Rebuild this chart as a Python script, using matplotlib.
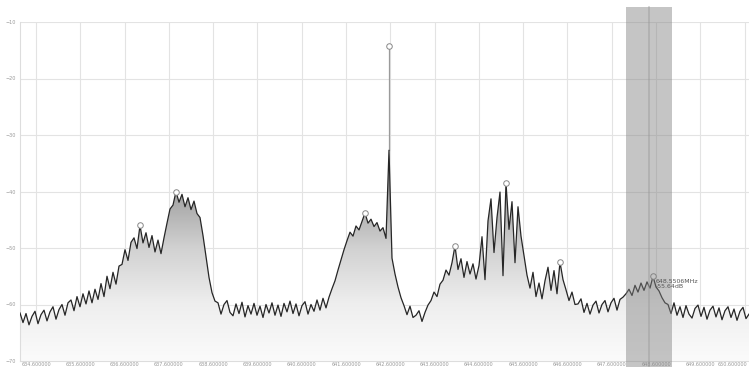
import matplotlib
matplotlib.use("Agg")
import matplotlib.pyplot as plt
import matplotlib.transforms as mtransforms
from matplotlib.patches import Polygon, Rectangle
import numpy as np

# sweep range (MHz) and trace levels (dB), one value per frequency bin
f_start = 634.24
f_stop = 650.70
level_db = [
    # floor, left edge
    -61.5, -63.2, -61.6, -63.6, -62.1, -61.2, -63.4, -61.8, -61.0, -62.9, -61.3, -60.4, -62.6, -60.9,
    -60.0, -61.9, -59.7, -59.2, -61.1, -58.6, -60.4, -58.1, -59.9, -57.6, -59.7, -57.3, -59.1,
    -56.3, -58.6, -55.0, -57.2, -54.3, -56.4, -53.2,
    # first bump
    -52.9, -50.3, -52.2, -49.0, -48.2, -50.1,
    -46.0, -49.1, -47.3, -49.9, -47.8, -50.7, -48.6, -51.0,
    # second bump
    -48.2, -45.6, -43.1, -42.4,
    -40.0, -41.9, -40.5, -42.7, -41.1, -43.2, -41.7, -43.9, -44.6,
    -47.8, -51.5, -55.2, -57.9, -59.4,
    # floor
    -59.7, -61.7, -60.0, -59.3, -61.4, -62.0, -59.9, -61.6, -59.6, -62.2, -60.2, -61.7, -59.8,
    -61.9, -60.3, -62.3, -60.0, -61.5, -59.7, -61.9, -60.1, -62.1, -59.8, -61.3, -59.4, -61.6,
    -59.9, -62.0, -60.2, -59.5, -61.7, -60.0, -61.2, -59.2, -61.0, -58.9, -60.6, -58.7,
    # third bump + carrier
    -57.2, -55.8, -53.9, -52.1, -50.3,
    -48.7, -47.2, -47.9, -46.1, -46.8, -45.3, -43.8, -45.6, -44.9, -46.2, -45.5, -47.0, -46.4,
    -48.3,
    -32.7,
    -51.8, -54.6, -56.9, -58.8,
    -60.2, -61.8, -60.3, -62.3, -61.9, -61.1, -63.0, -61.4,
    # jagged block
    -60.1, -59.3, -57.8, -58.6, -56.4, -55.7, -53.9, -54.8, -52.6,
    -49.6,
    -53.8, -51.9, -55.2, -52.4, -54.6, -52.8, -55.5, -53.1,
    -48.0, -55.6, -45.2, -41.3, -50.8, -44.6, -40.1, -54.9, -38.5, -46.7, -41.8, -52.6, -42.7,
    -47.9, -51.3, -54.8,
    -57.1, -54.3, -58.6, -56.2, -59.0, -55.8,
    -53.4, -57.5, -54.0, -58.1, -52.5, -55.6,
    # floor
    -57.4, -59.3, -57.8, -60.0, -59.9, -59.0, -61.4, -59.8, -61.7, -60.1, -59.4, -61.5, -60.0,
    -59.3, -61.3, -59.7, -58.9, -61.0, -59.1, -58.7,
    # small bump in the band
    -58.1, -57.3, -58.4, -56.6, -57.8, -56.2, -57.5, -56.0, -57.1, -55.0, -56.9, -57.6, -58.8, -59.7,
    # floor, right edge
    -60.0, -61.6, -59.7, -61.9, -60.4, -62.3, -60.2, -61.7, -62.4, -60.7, -60.1, -62.1, -60.5,
    -62.6, -61.0, -60.3, -62.2, -60.6, -62.7, -61.1, -60.4, -62.3, -60.8, -62.8, -61.2, -60.5,
    -62.5, -61.7,
]

# peak markers (trace bin indices), carrier max-hold level
marker_idx = [40, 52, 115, 145, 162, 180, 211]
carrier_idx = 123
carrier_hold_db = -14.3

# selected band and marker readout
band_lo = 647.92
band_hi = 648.96
band_mid = 648.44
readout_freq = "648.5506MHz"
readout_level = "-55.64dB"

x_ticks = [634.6 + i for i in range(17)]
y_ticks = [-70, -60, -50, -40, -30, -20, -10]

freqs = np.linspace(f_start, f_stop, len(level_db))
levels = np.array(level_db)

fig = plt.figure(figsize=(7.49, 3.67), dpi=100)
ax = fig.add_axes([20 / 749, 6 / 367, 729 / 749, 339 / 367])
ax.set_xlim(f_start, f_stop)
ax.set_ylim(-70, -10)

ax.set_xticks(x_ticks)
ax.set_xticklabels([f"{v:.6f}" for v in x_ticks])
ax.set_yticks(y_ticks)
ax.tick_params(axis="both", length=0, labelsize=3.5, labelcolor="#999999")
ax.tick_params(axis="x", pad=1)
ax.tick_params(axis="y", pad=3)
# nudge the last frequency label so it stays inside the figure
last = ax.get_xticklabels()[-1]
last.set_transform(last.get_transform() +
                   mtransforms.ScaledTranslation(-0.12, 0, fig.dpi_scale_trans))
ax.grid(True, color="#e3e3e3", linewidth=0.8)
ax.set_axisbelow(True)
for side in ["top", "right"]:
    ax.spines[side].set_visible(False)
for side in ["left", "bottom"]:
    ax.spines[side].set_color("#dddddd")
    ax.spines[side].set_linewidth(0.8)

# gradient fill under the trace
verts = np.column_stack([np.r_[freqs[0], freqs, freqs[-1]], np.r_[-70, levels, -70]])
clip = Polygon(verts, closed=True, facecolor="none", edgecolor="none")
ax.add_patch(clip)
yy = np.linspace(-70, -14, 300)
g = np.interp(yy, [-70, -60, -50, -40, -30], [0.985, 0.935, 0.82, 0.63, 0.55])
grad = np.repeat(g[:, None], 3, axis=1)[:, None, :]
im = ax.imshow(grad, extent=[f_start, f_stop, -70, -14], origin="lower",
               aspect="auto", zorder=1, interpolation="bilinear")
im.set_clip_path(clip)

# carrier max hold
ax.plot([freqs[carrier_idx]] * 2, [levels[carrier_idx], carrier_hold_db],
        color="#9a9a9a", lw=0.9, zorder=2)

ax.plot(freqs, levels, color="#262626", lw=0.9, zorder=3)

mk_x = list(freqs[marker_idx]) + [freqs[carrier_idx]]
mk_y = list(levels[marker_idx]) + [carrier_hold_db]
ax.plot(mk_x, mk_y, ls="", marker="o", ms=4, mfc="white", mec="#888888", mew=0.7, zorder=4)

# selection band
trans = mtransforms.blended_transform_factory(ax.transData, ax.transAxes)
ax.add_patch(Rectangle((band_lo, -0.02), band_hi - band_lo, 1.065, transform=trans,
                       facecolor="#808080", alpha=0.45, edgecolor="none",
                       clip_on=False, zorder=5))
ax.plot([band_mid, band_mid], [-0.02, 1.045], transform=trans, color="#999999",
        lw=1.2, alpha=0.5, clip_on=False, zorder=5)

ax.annotate(readout_freq + "\n" + readout_level, (freqs[211], levels[211]),
            xytext=(2, -2), textcoords="offset points", ha="left", va="top",
            fontsize=4.5, color="#555555", linespacing=1.1, zorder=6)

fig.savefig("out.png", dpi=100)
